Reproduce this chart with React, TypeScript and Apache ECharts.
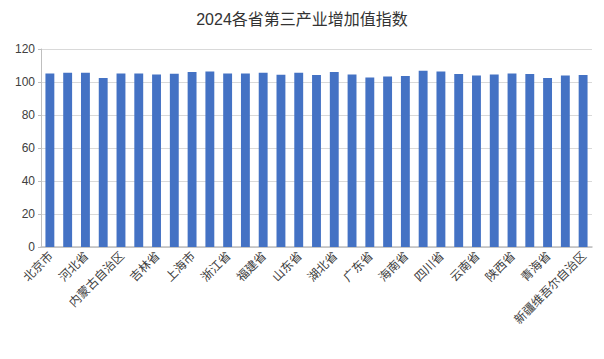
import React, { useEffect, useRef } from "react";
import * as echarts from "echarts";

const title = "2024各省第三产业增加值指数";
const provinces = [
  "北京市", "天津市", "河北省", "山西省", "内蒙古自治区", "辽宁省", "吉林省", "黑龙江省",
  "上海市", "江苏省", "浙江省", "安徽省", "福建省", "江西省", "山东省", "河南省",
  "湖北省", "湖南省", "广东省", "广西壮族自治区", "海南省", "重庆市", "四川省", "贵州省",
  "云南省", "西藏自治区", "陕西省", "甘肃省", "青海省", "宁夏回族自治区", "新疆维吾尔自治区",
];
const indexValues = [
  105.2, 105.6, 105.6, 102.5, 105.2, 105.2, 104.6, 105.0,
  106.0, 106.4, 105.2, 105.1, 105.6, 104.4, 105.6, 104.3,
  106.0, 104.6, 102.8, 103.4, 103.6, 106.8, 106.3, 104.8,
  104.0, 104.6, 105.1, 104.8, 102.4, 104.0, 104.3,
];
const yTicks = { min: 0, max: 120, interval: 20 };

const FONT = "'Liberation Sans', 'Noto Sans CJK SC', sans-serif";

export default function App() {
  const ref = useRef<HTMLDivElement>(null);
  useEffect(() => {
    if (!ref.current) return;
    const chart = echarts.init(ref.current, null, { renderer: "svg" });
    chart.setOption({
      animation: false,
      title: {
        text: title,
        left: "center",
        top: 6,
        textStyle: { fontFamily: FONT, fontSize: 16, fontWeight: "normal", color: "#333333" },
      },
      grid: { left: 41, right: 12, top: 49, bottom: 112, containLabel: false },
      xAxis: {
        type: "category",
        data: provinces,
        axisLine: { lineStyle: { color: "#bfbfbf", width: 1.5 } },
        axisTick: { alignWithLabel: true, interval: 1, length: 4, lineStyle: { color: "#7f7f7f" } },
        axisLabel: {
          interval: 1,
          rotate: 45,
          fontSize: 12,
          fontFamily: "'Noto Sans CJK SC', sans-serif",
          color: "#404040",
          margin: 6,
        },
      },
      yAxis: {
        type: "value",
        min: yTicks.min,
        max: yTicks.max,
        interval: yTicks.interval,
        axisLine: { show: true, lineStyle: { color: "#bfbfbf" } },
        axisTick: { show: true, length: 3, lineStyle: { color: "#bfbfbf" } },
        axisLabel: { fontSize: 12, fontFamily: FONT, color: "#404040", margin: 6 },
        splitLine: { lineStyle: { color: "#d9d9d9" } },
      },
      series: [
        {
          type: "bar",
          data: indexValues,
          barWidth: "50%",
          itemStyle: { color: "#4472c4" },
        },
      ],
    });
    return () => chart.dispose();
  }, []);
  return <div ref={ref} style={{ width: 604, height: 359, position: "absolute", left: 0, top: 0 }} />;
}
